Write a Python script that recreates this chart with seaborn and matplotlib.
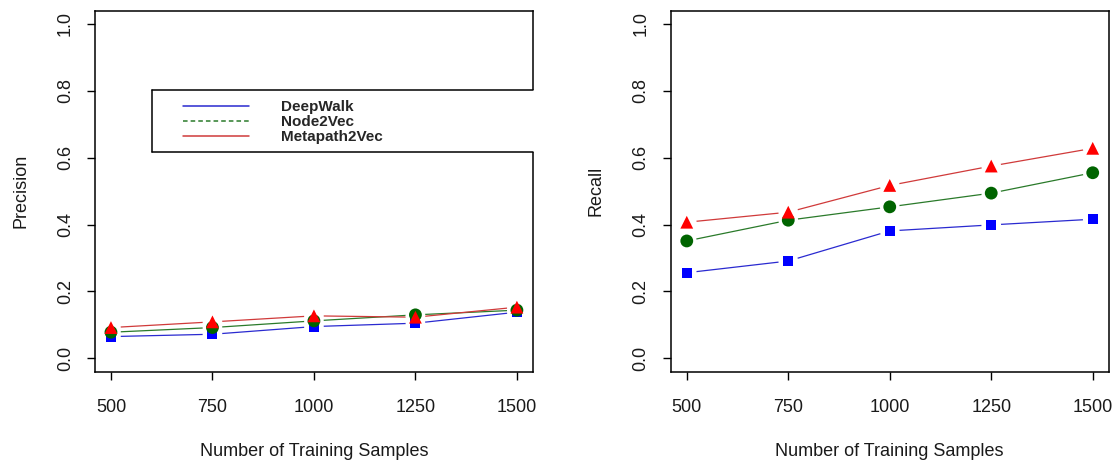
import matplotlib
matplotlib.use("Agg")
import matplotlib.pyplot as plt
from matplotlib.lines import Line2D
from matplotlib.patches import Rectangle
import numpy as np
import pandas as pd
import seaborn as sns

# data
samples = [500, 750, 1000, 1250, 1500]
methods = ["DeepWalk", "Node2Vec", "Metapath2Vec"]

precision_deepwalk = [0.065, 0.072, 0.095, 0.105, 0.138]
precision_node2vec = [0.078, 0.092, 0.112, 0.130, 0.144]
precision_metapath = [0.092, 0.109, 0.127, 0.123, 0.153]

recall_deepwalk = [0.256, 0.291, 0.381, 0.399, 0.416]
recall_node2vec = [0.351, 0.413, 0.453, 0.494, 0.555]
recall_metapath = [0.407, 0.437, 0.517, 0.575, 0.628]

colors = {"DeepWalk": "blue", "Node2Vec": "darkgreen", "Metapath2Vec": "red"}
line_colors = {"DeepWalk": "#2a2ad0", "Node2Vec": "#2a7a2a", "Metapath2Vec": "#d03a3a"}
markers = {"DeepWalk": "s", "Node2Vec": "o", "Metapath2Vec": "^"}
msize = {"DeepWalk": 52, "Node2Vec": 85, "Metapath2Vec": 85}

prec = pd.DataFrame({
    "n": samples * 3,
    "value": precision_deepwalk + precision_node2vec + precision_metapath,
    "method": np.repeat(methods, len(samples)),
})
rec = pd.DataFrame({
    "n": samples * 3,
    "value": recall_deepwalk + recall_node2vec + recall_metapath,
    "method": np.repeat(methods, len(samples)),
})

sns.set_style("white")
plt.rcParams["font.family"] = ["Liberation Sans", "DejaVu Sans"]

fig = plt.figure(figsize=(11.17, 4.63), dpi=100)
ax1 = fig.add_axes([0.0848, 0.1972, 0.3925, 0.780])
ax2 = fig.add_axes([0.6003, 0.1972, 0.3925, 0.780])


def draw(ax, df, ylabel):
    for m in methods:
        d = df[df.method == m]
        sns.lineplot(data=d, x="n", y="value", color=line_colors[m], lw=0.9,
                     ax=ax, zorder=2)
    # white halo so lines stop short of the points (R type="b")
    for m in methods:
        d = df[df.method == m]
        sns.scatterplot(data=d, x="n", y="value", marker="o", s=200,
                        color="white", edgecolor="none", ax=ax, zorder=3)
    for m in methods:
        d = df[df.method == m]
        sns.scatterplot(data=d, x="n", y="value", marker=markers[m], s=msize[m],
                        color=colors[m], edgecolor="none", ax=ax, zorder=4)
    ax.set_xlim(460, 1540)
    ax.set_ylim(-0.04, 1.04)
    ax.set_xticks(samples)
    ax.set_yticks([0.0, 0.2, 0.4, 0.6, 0.8, 1.0])
    ax.set_yticklabels(["0.0", "0.2", "0.4", "0.6", "0.8", "1.0"], rotation=90,
                       va="center")
    ax.tick_params(axis="both", direction="out", length=6, width=1,
                   bottom=True, left=True, color="black", labelsize=13,
                   labelcolor="#1a1a1a")
    ax.tick_params(axis="x", pad=14)
    ax.tick_params(axis="y", pad=9)
    ax.set_xlabel("Number of Training Samples", fontsize=13, labelpad=19,
                  color="#1a1a1a")
    ax.set_ylabel(ylabel, fontsize=13, labelpad=20, color="#1a1a1a")
    for s in ax.spines.values():
        s.set_visible(True)
        s.set_color("black")
        s.set_linewidth(1.1)


draw(ax1, prec, "Precision")
draw(ax2, rec, "Recall")

# legend box of the left panel, running off past the right edge
x0, y0, y1 = 0.131, 0.608, 0.780
ax1.add_patch(Rectangle((x0, y0), 1.02 - x0, y1 - y0, transform=ax1.transAxes,
                        facecolor="white", edgecolor="none", zorder=6,
                        clip_on=False))
for xs, ys in [([x0, x0], [y0, y1]), ([x0, 1.0], [y1, y1]), ([x0, 1.0], [y0, y0])]:
    ax1.plot(xs, ys, transform=ax1.transAxes, color="black", lw=1.1,
             zorder=7, clip_on=False)

handles = [
    Line2D([], [], color=line_colors["DeepWalk"], lw=1.1, ls="-"),
    Line2D([], [], color=line_colors["Node2Vec"], lw=1.1, ls=(0, (3, 2))),
    Line2D([], [], color=line_colors["Metapath2Vec"], lw=1.1, ls="-"),
]
leg = ax1.legend(handles, methods, loc="upper left", bbox_to_anchor=(0.201, 0.752),
                 frameon=False, borderpad=0, borderaxespad=0, handlelength=4.3,
                 handletextpad=2.15, labelspacing=0.06,
                 prop={"weight": "bold", "size": 11})
leg.set_zorder(8)

fig.savefig("out.png", dpi=100)
